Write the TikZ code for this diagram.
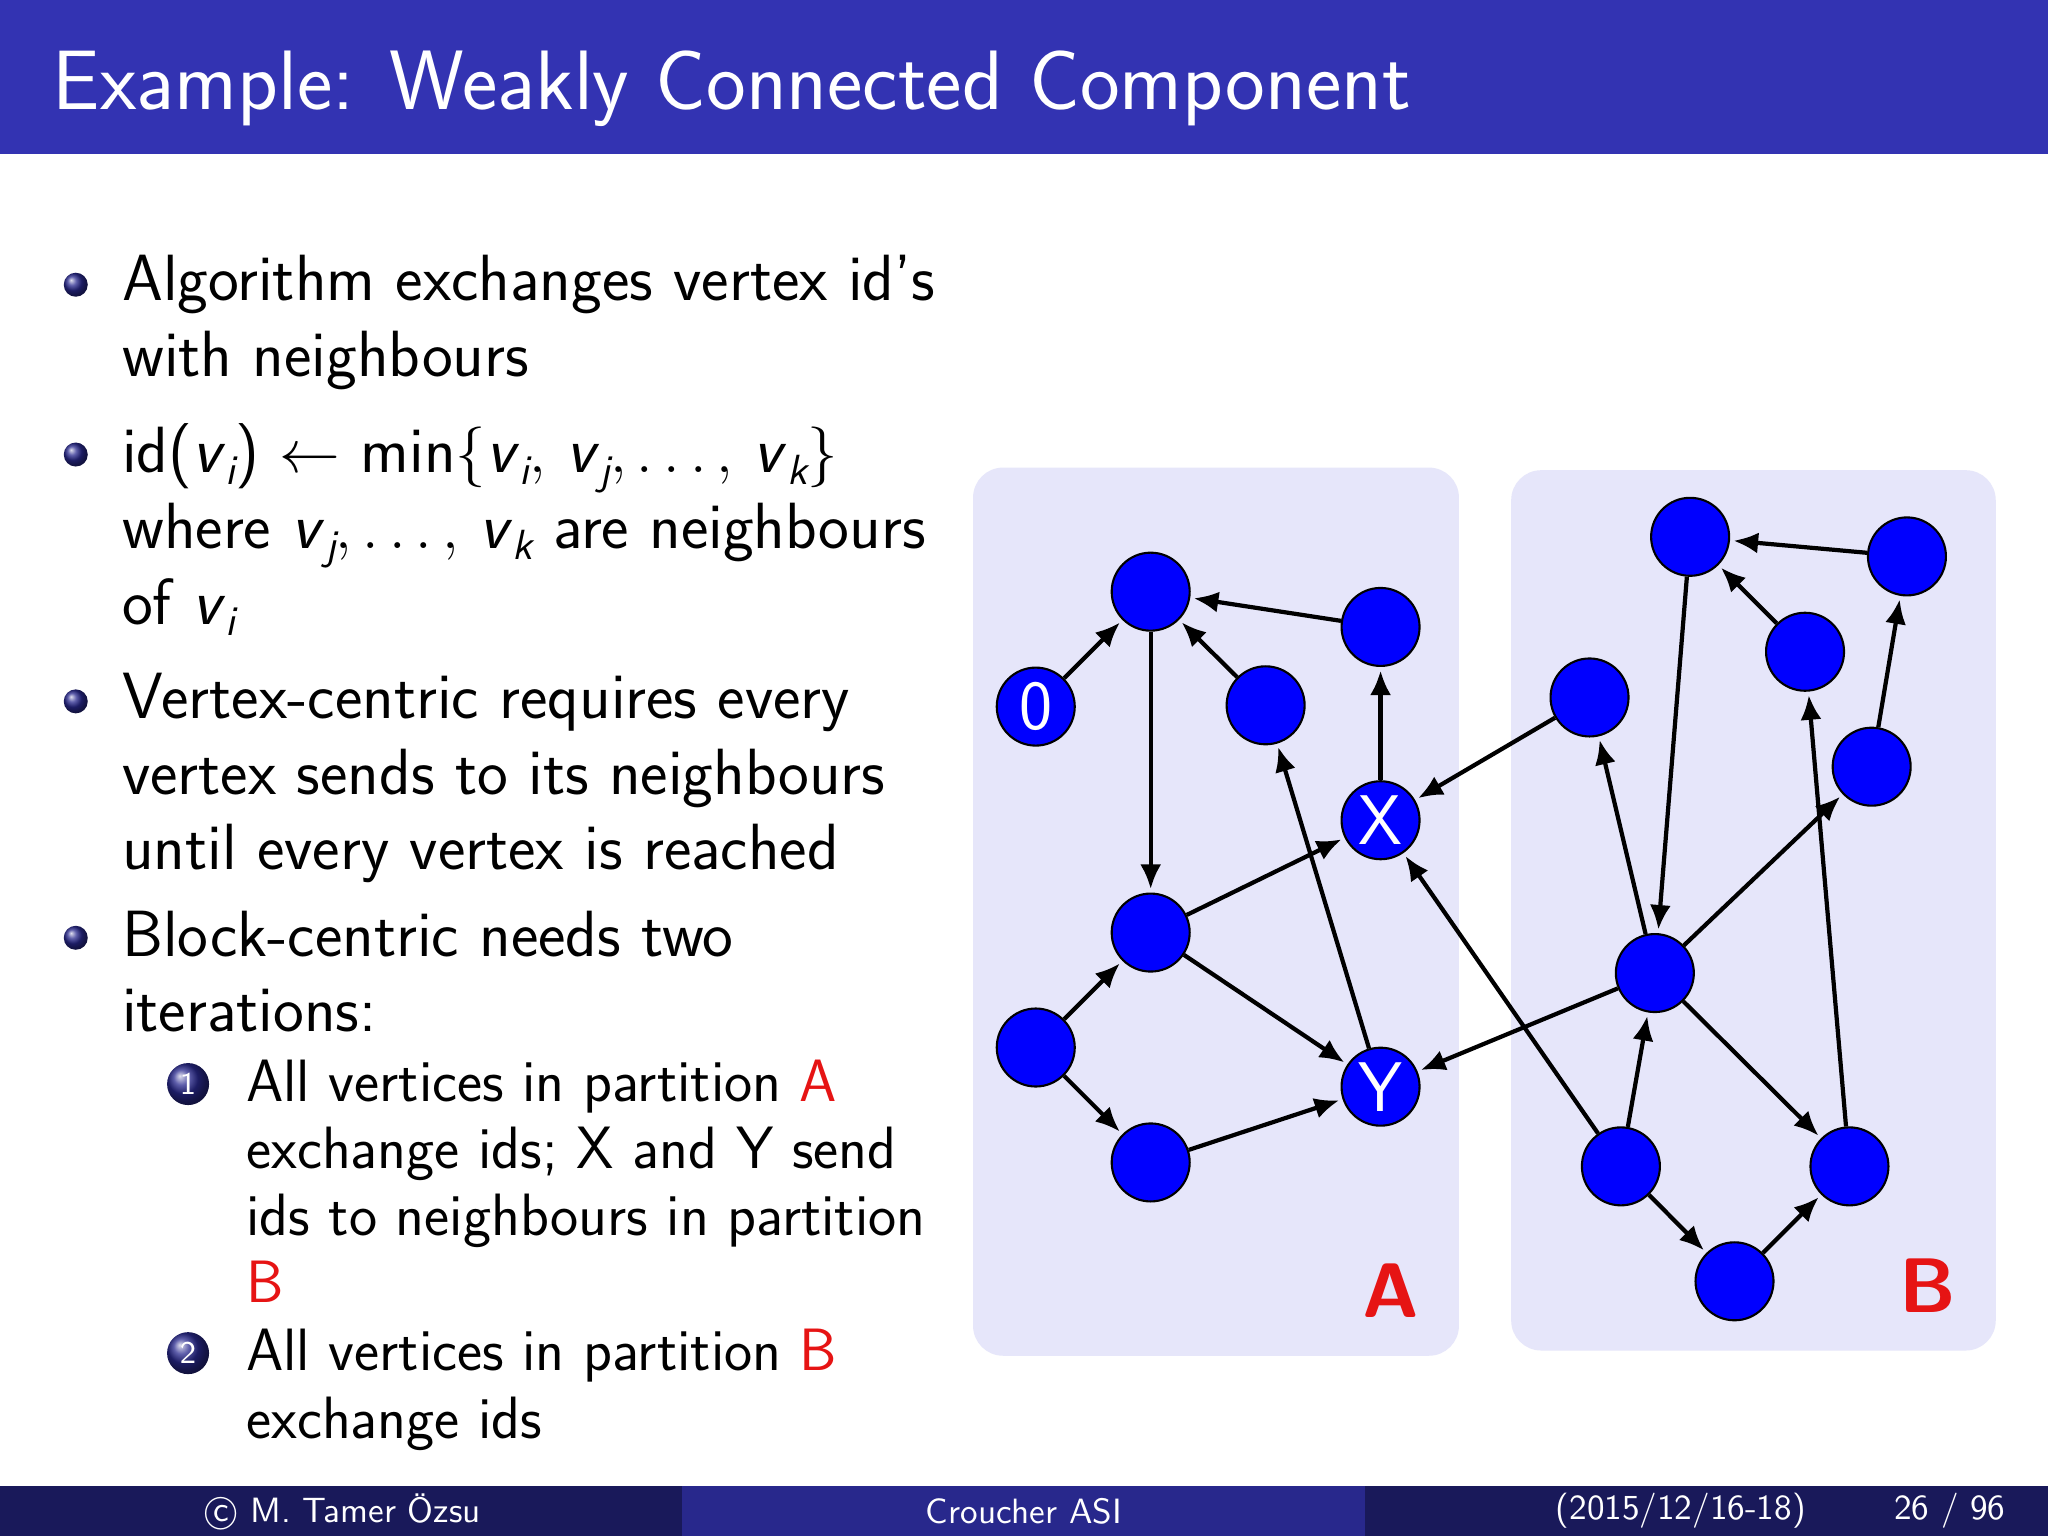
\documentclass[tikz,border=0pt]{standalone}
\usepackage{amssymb}
\usetikzlibrary{arrows.meta}
\definecolor{bar}{RGB}{51,51,178}
\definecolor{foot1}{RGB}{25,25,90}
\definecolor{foot2}{RGB}{40,40,140}
\definecolor{part}{RGB}{230,230,250}
\definecolor{vred}{RGB}{230,20,20}
\newcommand\vx[1]{\textit{v}\raisebox{-0.4ex}{\fontsize{12}{12}\selectfont\itshape #1}}
\begin{document}
\begin{tikzpicture}[x=0.013061cm,y=-0.013061cm,
  vtx/.style={circle,fill=blue,draw=black,line width=0.6pt,minimum size=0.78cm,inner sep=0pt,text=white,font=\sffamily\fontsize{20}{20}\selectfont},
  edge/.style={-{Latex[length=7pt,width=6pt]},line width=1.2pt,shorten >=1pt},
  body/.style={anchor=base west,font=\sffamily\fontsize{18.6}{20}\selectfont,inner sep=0pt},
  sub/.style={anchor=base west,font=\sffamily\fontsize{17}{20}\selectfont,inner sep=0pt},
  ball/.style={circle,inner sep=0pt,minimum size=0.24cm,ball color=bar!80!black},
  num/.style={circle,inner sep=0pt,minimum size=0.42cm,ball color=bar!80!black,text=white,font=\sffamily\fontsize{9}{9}\selectfont}]
\useasboundingbox (0,0) rectangle (1568,1176);
\fill[white] (0,0) rectangle (1568,1176);
\fill[bar] (0,0) rectangle (1568,118);
\node[anchor=west,text=white,font=\sffamily\fontsize{24}{28}\selectfont] (title) at (31,68) {Example: Weakly Connected Component};
% footer
\fill[foot1] (0,1138) rectangle (522,1176);
\fill[foot2] (522,1138) rectangle (1045,1176);
\fill[foot1] (1045,1138) rectangle (1568,1176);
\node[text=white,font=\sffamily\fontsize{10}{12}\selectfont] (f1) at (262,1157) {\textcircled{c} M. Tamer \"Ozsu};
\node[text=white,font=\sffamily\fontsize{10}{12}\selectfont] (f2) at (784,1157) {Croucher ASI};
\node[text=white,font=\sffamily\fontsize{10}{12}\selectfont,anchor=east] (f3) at (1392,1157) {(2015/12/16-18)};
\node[text=white,font=\sffamily\fontsize{10}{12}\selectfont,anchor=east] (f4) at (1545,1157) {26 / 96};
% bullets
\node[ball] (b1) at (58,218) {};
\node[ball] (b2) at (58,348) {};
\node[ball] (b3) at (58,537) {};
\node[ball] (b4) at (58,718) {};
\node[body] (t1) at (93,230) {Algorithm exchanges vertex id's};
\node[body] (t2) at (93,288) {with neighbours};
\node[body] (t3) at (93,362) {id(\vx{i}) $\leftarrow$ min$\{$\vx{i}$,$ \vx{j}$,\ldots,$ \vx{k}$\}$};
\node[body] (t4) at (93,420) {where \vx{j}$,\ldots,$ \vx{k} are neighbours};
\node[body] (t5) at (93,478) {of \vx{i}};
\node[body] (t6) at (93,550) {Vertex-centric requires every};
\node[body] (t7) at (93,608) {vertex sends to its neighbours};
\node[body] (t8) at (93,666) {until every vertex is reached};
\node[body] (t9) at (93,732) {Block-centric needs two};
\node[body] (t10) at (93,790) {iterations:};
\node[num] (n1) at (144,830) {1};
\node[num] (n2) at (144,1036) {2};
\node[sub] (s1) at (188,843) {All vertices in partition \textcolor{vred}{A}};
\node[sub] (s2) at (188,895) {exchange ids; X and Y send};
\node[sub] (s3) at (188,946) {ids to neighbours in partition};
\node[sub] (s4) at (188,997) {\textcolor{vred}{B}};
\node[sub] (s5) at (188,1049) {All vertices in partition \textcolor{vred}{B}};
\node[sub] (s6) at (188,1101) {exchange ids};
% partitions
\fill[part,rounded corners=0.3cm] (745,358) rectangle (1117,1038);
\fill[part,rounded corners=0.3cm] (1157,360) rectangle (1528,1034);
\node[text=vred,font=\sffamily\bfseries\fontsize{22}{22}\selectfont] (LA) at (1065,988) {A};
\node[text=vred,font=\sffamily\bfseries\fontsize{22}{22}\selectfont] (LB) at (1476,984) {B};
% vertices
\node[vtx] (z) at (793,541) {0};
\node[vtx] (a1) at (881,453) {};
\node[vtx] (a2) at (1057,480) {};
\node[vtx] (a3) at (969,540) {};
\node[vtx] (X) at (1057,628) {X};
\node[vtx] (a4) at (881,714) {};
\node[vtx] (a5) at (793,802) {};
\node[vtx] (a6) at (881,890) {};
\node[vtx] (Y) at (1057,832) {Y};
\node[vtx] (c1) at (1294,411) {};
\node[vtx] (c2) at (1460,426) {};
\node[vtx] (c3) at (1382,499) {};
\node[vtx] (c4) at (1217,534) {};
\node[vtx] (c5) at (1433,587) {};
\node[vtx] (c6) at (1267,745) {};
\node[vtx] (c7) at (1241,893) {};
\node[vtx] (c8) at (1416,893) {};
\node[vtx] (c9) at (1328,981) {};
% edges
\foreach \s/\t in {z/a1,a2/a1,a3/a1,a1/a4,X/a2,a4/X,a4/Y,a5/a4,a5/a6,a6/Y,Y/a3,c4/X,c6/Y,c7/X,c1/c6,c2/c1,c3/c1,c5/c2,c6/c4,c6/c5,c6/c8,c7/c6,c7/c9,c9/c8,c8/c3}
  \draw[edge] (\s) -- (\t);
\end{tikzpicture}
\end{document}
